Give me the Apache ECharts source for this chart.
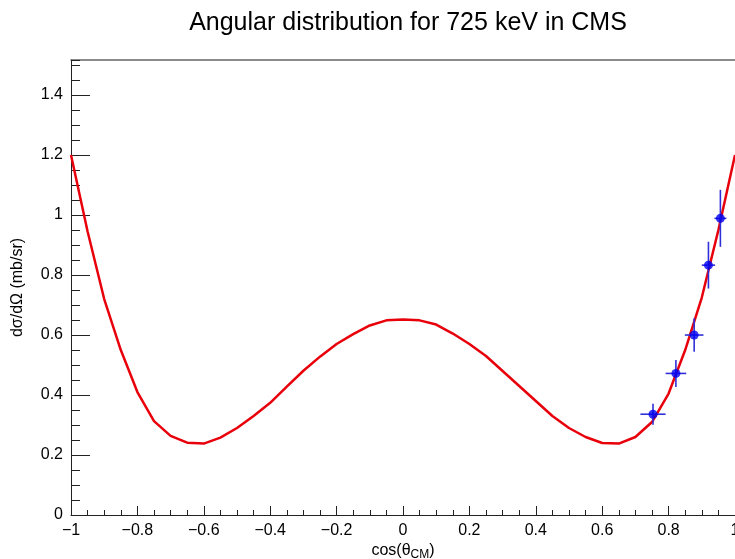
<!DOCTYPE html>
<html>
<head>
<meta charset="utf-8">
<script src="https://cdn.jsdelivr.net/npm/echarts@6/dist/echarts.min.js"></script>
<style>
html,body{margin:0;padding:0;background:#fff;}
#chart{width:735px;height:559px;}
</style>
</head>
<body>
<div id="chart"></div>
<script>
// ---- data ----
var titleText = 'Angular distribution for 725 keV in CMS';
var yTitle = 'dσ/dΩ (mb/sr)';

// fitted curve (cosθ, dσ/dΩ)
var curveX = [-1, -0.95, -0.9, -0.85, -0.8, -0.75, -0.7, -0.65, -0.6, -0.55, -0.5,
              -0.45, -0.4, -0.35, -0.3, -0.25, -0.2, -0.15, -0.1, -0.05, 0,
              0.05, 0.1, 0.15, 0.2, 0.25, 0.3, 0.35, 0.4, 0.45, 0.5,
              0.55, 0.6, 0.65, 0.7, 0.75, 0.8, 0.85, 0.9, 0.95, 1];
var curveY = [1.2, 0.945, 0.72, 0.55, 0.41, 0.313, 0.264, 0.241, 0.238, 0.258, 0.29,
              0.33, 0.374, 0.428, 0.481, 0.528, 0.57, 0.603, 0.632, 0.649, 0.652,
              0.649, 0.635, 0.605, 0.57, 0.53, 0.48, 0.43, 0.38, 0.33, 0.29,
              0.26, 0.24, 0.238, 0.26, 0.31, 0.405, 0.55, 0.725, 0.95, 1.2];

// measured points with errors
var pointX  = [0.753, 0.822, 0.877, 0.920, 0.956];
var pointY  = [0.336, 0.472, 0.600, 0.833, 0.989];
var pointEX = [0.038, 0.031, 0.028, 0.020, 0.018];
var pointEY = [0.035, 0.045, 0.056, 0.078, 0.095];

// axis ranges / ticks
var xMin = -1, xMax = 1, xStep = 0.2;
var yMin = 0, yMax = 1.517, yStep = 0.2, yMinorStep = 0.05;

var curveData = curveX.map(function (x, i) { return [x, curveY[i]]; });
var pointData = pointX.map(function (x, i) { return [x, pointY[i]]; });
var errData = pointX.map(function (x, i) { return [x, pointY[i], pointEX[i], pointEY[i]]; });

var FONT = '"Liberation Sans", Arial, Helvetica, sans-serif';
var chart = echarts.init(document.getElementById('chart'), null, {renderer: 'canvas'});

function fmtNum(v) {
  var r = Math.round(v * 10) / 10;
  if (Math.abs(r - v) > 1e-6) return '';
  if (Math.abs(r) < 1e-9) return '0';
  var s = String(r);
  return s.replace('-', '\u2212');
}

chart.setOption({
  animation: false,
  backgroundColor: '#ffffff',
  title: {
    text: titleText,
    left: 403,
    textAlign: 'center',
    top: 6,
    textStyle: {fontFamily: FONT, fontSize: 25, fontWeight: 'normal', color: '#000'}
  },
  grid: {left: 71, right: 0, top: 60, bottom: 44, containLabel: false, outerBoundsMode: 'none'},
  xAxis: [{
    type: 'value', min: xMin, max: xMax, interval: xStep, position: 'bottom',
    axisLine: {show: true, onZero: false, lineStyle: {color: '#222', width: 1}},
    axisTick: {show: true, inside: true, length: 9, lineStyle: {color: '#222'}},
    minorTick: {show: true, splitNumber: 4, length: 5, lineStyle: {color: '#222'}},
    splitLine: {show: false},
    axisLabel: {show: true, margin: 8, fontFamily: FONT, fontSize: 16, color: '#000',
      formatter: fmtNum},
    name: '{a|cos(θ}{s|CM}{a|)}',
    nameLocation: 'middle',
    nameGap: 25,
    nameMoveOverlap: false,
    nameTextStyle: {
      rich: {
        a: {fontFamily: FONT, fontSize: 16, color: '#000'},
        s: {fontFamily: FONT, fontSize: 12, color: '#000', padding: [9, 0, 0, 0]}
      }
    }
  }, {
    type: 'value', min: xMin, max: xMax, interval: xStep, position: 'top',
    axisLine: {show: true, onZero: false, lineStyle: {color: '#666', width: 1.5}},
    axisTick: {show: false}, axisLabel: {show: false}, splitLine: {show: false}
  }],
  yAxis: [{
    type: 'value', min: yMin, max: yMax, interval: yStep, position: 'left',
    axisLine: {show: true, onZero: false, lineStyle: {color: '#222', width: 1}},
    axisTick: {show: true, inside: true, length: 19, lineStyle: {color: '#222'}},
    splitLine: {show: false},
    axisLabel: {show: true, margin: 8, fontFamily: FONT, fontSize: 16, color: '#000',
      showMaxLabel: false, formatter: fmtNum},
    name: yTitle,
    nameLocation: 'middle',
    nameRotate: 90,
    nameGap: 45,
    nameTextStyle: {fontFamily: FONT, fontSize: 16, color: '#000'}
  }, {
    type: 'value', min: yMin, max: yMax, interval: yMinorStep, position: 'left',
    axisLine: {show: false, onZero: false},
    axisTick: {show: true, inside: true, length: 9, lineStyle: {color: '#222'}},
    axisLabel: {show: false}, splitLine: {show: false}
  }],
  series: [{
    type: 'line',
    data: curveData,
    xAxisIndex: 0, yAxisIndex: 0,
    showSymbol: false,
    smooth: false,
    lineStyle: {color: '#e8000b', width: 2.5},
    z: 2
  }, {
    type: 'custom',
    xAxisIndex: 0, yAxisIndex: 0,
    data: errData,
    renderItem: function (params, api) {
      var x = api.value(0), y = api.value(1), ex = api.value(2), ey = api.value(3);
      var l = api.coord([x - ex, y]), r = api.coord([x + ex, y]);
      var t = api.coord([x, y + ey]), b = api.coord([x, y - ey]);
      var style = {stroke: '#3030d8', lineWidth: 1.6};
      return {
        type: 'group',
        children: [
          {type: 'line', shape: {x1: l[0], y1: l[1], x2: r[0], y2: r[1]}, style: style},
          {type: 'line', shape: {x1: t[0], y1: t[1], x2: b[0], y2: b[1]}, style: style}
        ]
      };
    },
    z: 3
  }, {
    type: 'scatter',
    xAxisIndex: 0, yAxisIndex: 0,
    data: pointData,
    symbol: 'circle',
    symbolSize: 9,
    itemStyle: {color: '#0000f0'},
    z: 4
  }]
});
</script>
</body>
</html>
